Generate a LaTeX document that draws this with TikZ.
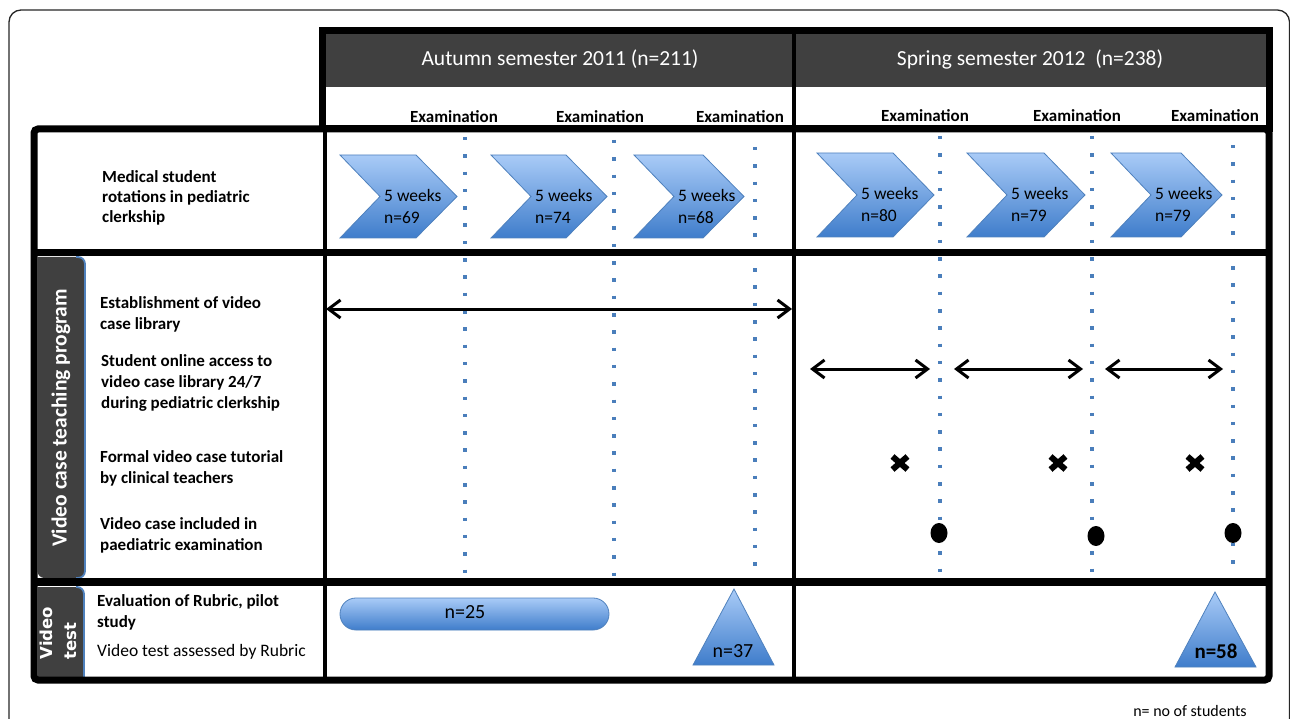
\documentclass[tikz,border=0pt]{standalone}
\usepackage{fontspec}
\setmainfont{Carlito}
\newfontfamily\tabfont{DejaVu Sans}
\usetikzlibrary{arrows.meta}

\definecolor{hdrgray}{HTML}{404040}
\definecolor{bluelight}{HTML}{A9CBF7}
\definecolor{bluedark}{HTML}{3F7DCB}
\definecolor{blueedge}{HTML}{4F81BD}
\definecolor{dotblue}{HTML}{4A7EBB}

\tikzset{
  heavy/.style={line width=7pt, draw=black},
  blueshape/.style={top color=bluelight, bottom color=bluedark, draw=blueedge, line width=0.8pt},
  rowtext/.style={font=\fontsize{17}{21}\selectfont\bfseries, align=left, anchor=west, inner sep=0pt},
  rowplain/.style={font=\fontsize{17.5}{21}\selectfont, align=left, anchor=west, inner sep=0pt},
  examlabel/.style={font=\fontsize{17}{20}\selectfont\bfseries, inner sep=0pt},
  semtitle/.style={font=\fontsize{21.5}{24}\selectfont, text=white, inner sep=0pt},
  wktext/.style={font=\fontsize{17.5}{22}\selectfont, align=left, anchor=west, inner sep=0pt},
  examline/.style={draw=dotblue, line width=3.5pt, dash pattern=on 3.5pt off 13.8pt},
  spanarrow/.style={line width=3pt, line cap=round,
    {Straight Barb[length=12pt,width=18pt]}-{Straight Barb[length=12pt,width=18pt]}},
  crossmark/.style={line width=6pt},
  tabtext/.style={font=\fontsize{21.5}{24}\selectfont\bfseries, text=white, rotate=90, inner sep=0pt},
  countlabel/.style={font=\fontsize{20}{22}\selectfont, inner sep=0pt},
}

\begin{document}
\begin{tikzpicture}[x=1pt,y=-1pt]
\useasboundingbox (0,0) rectangle (1290,719);
\clip (0,0) rectangle (1290,719);

% thin outer frame
\draw[line width=1.3pt, draw=black!85, rounded corners=12pt] (9,10) rectangle (1289.5,760);

% semester header bands
\fill[hdrgray] (325.5,34.5) rectangle (792,87);
\fill[hdrgray] (796,34.5) rectangle (1265.5,87);
\node[semtitle] (autumn) at (560,59) {Autumn semester 2011 (n=211)};
\node[semtitle] (spring) at (1030,59) {Spring semester 2012\ \ (n=238)};

% examination labels
\node[examlabel] (ea1) at (454,117) {Examination};
\node[examlabel] (ea2) at (600,117) {Examination};
\node[examlabel] (ea3) at (740,117) {Examination};
\node[examlabel] (es1) at (925,116) {Examination};
\node[examlabel] (es2) at (1077,116) {Examination};
\node[examlabel] (es3) at (1215,116) {Examination};

% side tabs
\fill[hdrgray, rounded corners=7pt] (37.5,257) -- (85,257) -- (85,578) -- (37.5,578) [sharp corners] -- cycle;
\draw[blueedge, line width=1.8pt, rounded corners=7pt] (76,257) -- (85,257) -- (85,578) -- (76,578);
\fill[hdrgray, rounded corners=7pt] (37.5,587) -- (84,587) [sharp corners] -- (84,677) -- (37.5,677) -- cycle;
\draw[blueedge, line width=1.8pt, rounded corners=7pt] (76,587) -- (84,587) [sharp corners] -- (84,677);
\node[tabtext] (tabvideo) at (61,418) {Video case teaching program};
\node[font=\tabfont\fontsize{16.5}{24}\selectfont\bfseries, text=white, rotate=90, align=left, inner sep=0pt] (tabtest) at (58,633) {Video\\test};

% examination dividers
\foreach \x/\ya/\yb [count=\i] in {465/137/578, 614/140/578, 755/147/578, 940/136/575, 1092/136/575, 1233/145/575}
  \draw[examline] (\x,\ya) -- (\x,\yb);

% rotation chevrons
\foreach \xa/\xt/\yt/\yb/\n [count=\i] in {340/457/155/238/69, 491/607/155/238/74, 634/744/155/238/68,
                                       817/934/153/237/80, 967/1085/153/237/79, 1111/1222/153/237/79}{
  \pgfmathsetmacro{\ym}{(\yt+\yb)/2}
  \shade[blueshape] (\xa,\yt) -- (\xt-41,\yt) -- (\xt,\ym) -- (\xt-41,\yb) -- (\xa,\yb) -- (\xa+40,\ym) -- cycle;
  \node[wktext] (wk\i) at (\xa+44,\ym+9.5) {5 weeks\\n=\n};
}

% table grid
\draw[heavy] (322,31) rectangle (1269,129);
\draw[heavy, rounded corners=4pt] (34,129) rectangle (1269,680);
\draw[heavy] (34,253) -- (1269,253);
\draw[line width=8.5pt] (34,582) -- (1269,582);
\draw[line width=4.5pt] (325,129) -- (325,680);
\draw[line width=4pt] (794,31) -- (794,680);

% row labels
\node[rowtext, font=\fontsize{17}{20}\selectfont\bfseries] (rot) at (102,198) {Medical student\\rotations in pediatric\\clerkship};
\node[rowtext] (lib) at (100,314) {Establishment of video\\case library};
\node[rowtext] (acc) at (101,383) {Student online access to\\video case library 24/7\\during pediatric clerkship};
\node[rowtext] (tut) at (100,468) {Formal video case tutorial\\by clinical teachers};
\node[rowtext] (inc) at (100,535.5) {Video case included in\\paediatric examination};
\node[rowtext] (pil) at (97,612.5) {Evaluation of Rubric, pilot\\study};
\node[rowplain] (rub) at (97,652) {Video test assessed by Rubric};

% library establishment span
\coordinate (la) at (326,309);
\coordinate (lb) at (792,309);
\draw[spanarrow] (la) -- (lb);

% online access spans
\coordinate (a1) at (810,369); \coordinate (b1) at (930,369);
\coordinate (a2) at (954,369); \coordinate (b2) at (1083,369);
\coordinate (a3) at (1105,369); \coordinate (b3) at (1223,369);
\draw[spanarrow] (a1) -- (b1);
\draw[spanarrow] (a2) -- (b2);
\draw[spanarrow] (a3) -- (b3);

% tutorials
\foreach \x [count=\i] in {900,1058,1195}{
  \coordinate (x\i) at (\x,463);
  \draw[crossmark] ([shift={(-7.5,-6.5)}]x\i) -- ([shift={(7.5,6.5)}]x\i);
  \draw[crossmark] ([shift={(-7.5,6.5)}]x\i) -- ([shift={(7.5,-6.5)}]x\i);
}

% video case in examination
\foreach \x/\y [count=\i] in {939/533, 1096/536, 1233/533}
  \fill (\x,\y) ellipse [x radius=8.5, y radius=10];

% video test
\shade[blueshape, rounded corners=15.9pt] (340,598) rectangle (609,630);
\node[countlabel] (n25) at (465,612) {n=25};
\shade[blueshape] (734,589) -- (774,665) -- (693,665) -- cycle;
\node[countlabel] (n37) at (733,651) {n=37};
\shade[blueshape] (1215,592) -- (1256,667) -- (1175,667) -- cycle;
\node[countlabel, font=\fontsize{21}{22}\selectfont\bfseries] (n58) at (1216,651) {n=58};

% legend
\node[font=\fontsize{16}{18}\selectfont, inner sep=0pt] (legend) at (1190,710.5) {n= no of students};
\end{tikzpicture}
\end{document}
